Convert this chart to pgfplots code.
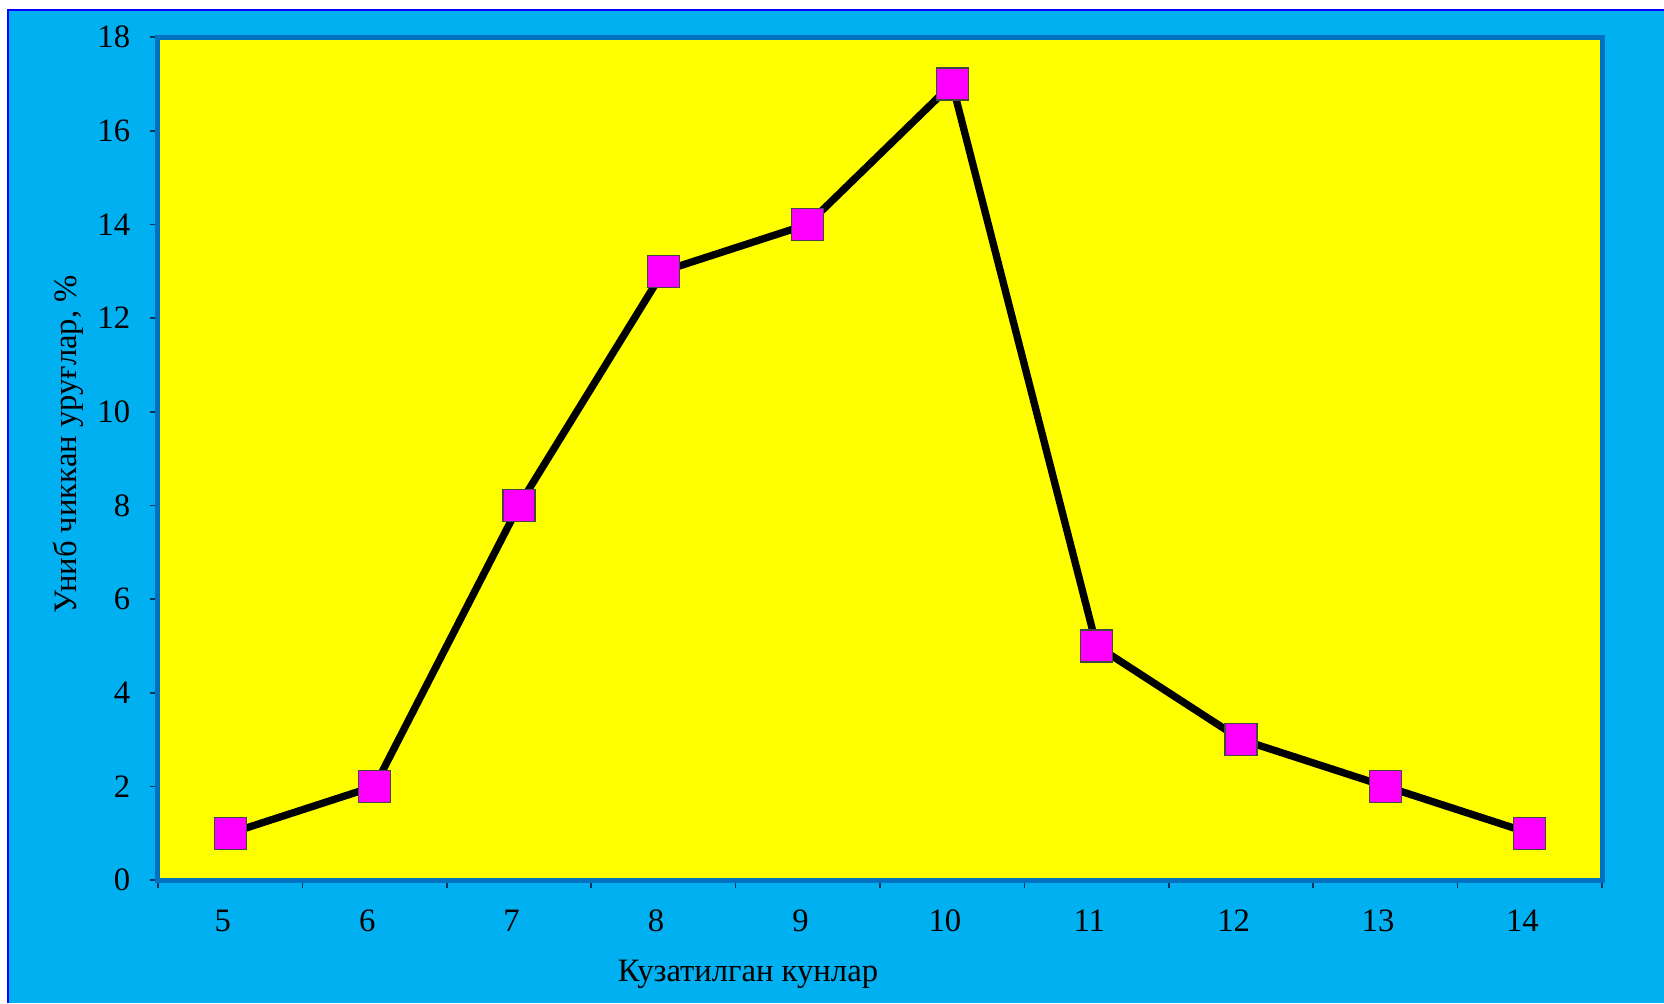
\documentclass[border=0pt]{standalone}
\usepackage{pgfplots}
\pgfplotsset{compat=1.18}
\usepackage{fontspec}
\setmainfont{Liberation Serif}
\definecolor{bgblue}{RGB}{0,176,240}
\definecolor{edgeblue}{RGB}{0,0,255}
\definecolor{frameblue}{RGB}{0,112,192}
\definecolor{tickdark}{RGB}{20,50,90}
\definecolor{plotyellow}{RGB}{255,255,0}
\definecolor{mag}{RGB}{255,0,255}
\definecolor{markedge}{RGB}{70,70,70}
\begin{document}
\fontsize{9.8}{12}\selectfont
\begin{tikzpicture}[x=0.3pt,y=0.3pt]
\path[use as bounding box, fill=white] (0,0) rectangle (1664,1003);
\fill[bgblue] (8,0) rectangle (1664,993);
\draw[edgeblue, line width=0.6pt] (8,0) -- (8,993) -- (1664,993);
\begin{axis}[
  at={(47.4pt,36.9pt)}, anchor=south west,
  width=433.2pt, height=252.9pt, scale only axis,
  xmin=4.5, xmax=14.5, ymin=0, ymax=18,
  axis background/.style={fill=plotyellow},
  axis line style={frameblue, line width=1.5pt},
  xtick={4.5,5.5,...,14.5}, xticklabels={},
  extra x ticks={5,6,...,14},
  extra x tick labels={5,6,7,8,9,10,11,12,13,14},
  extra x tick style={major tick length=0pt, xticklabel style={xshift=-2.2pt, yshift=-5.5pt}},
  ytick={0,2,...,18},
  tick align=outside, major tick length=2.4pt,
  tick style={tickdark, line width=0.5pt},
  xtick pos=bottom, ytick pos=left,
  yticklabel style={xshift=-2.5pt},
  /pgf/number format/assume math mode=true,
  ticklabel style={font=\fontsize{9.8}{12}\selectfont},
  xlabel={Кузатилган кунлар},
  xlabel style={at={(axis description cs:0.4086,-0.1115)}, anchor=center},
  ylabel={Униб чиккан уруғлар, \%},
  ylabel style={at={(axis description cs:-0.0620,0.517)}, anchor=center, rotate=0},
  clip=false,
]
\addplot[black, line width=2.2pt, mark=square*, mark size=4.8pt,
  mark options={fill=mag, draw=markedge, line width=0.4pt}]
  coordinates {(5,1) (6,2) (7,8) (8,13) (9,14) (10,17) (11,5) (12,3) (13,2) (14,1)};
\end{axis}
\end{tikzpicture}
\end{document}
